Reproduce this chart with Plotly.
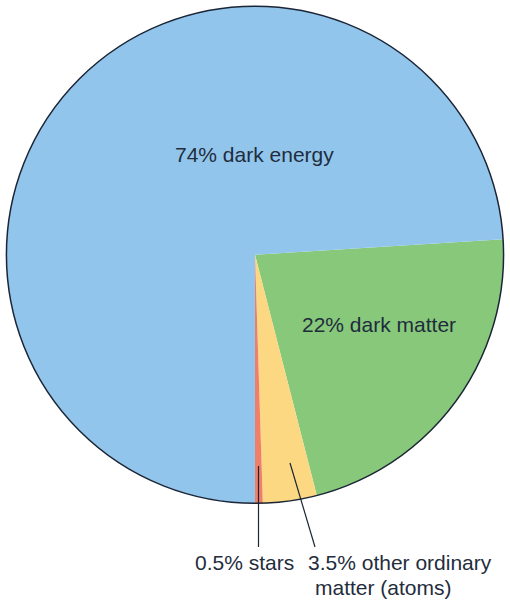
import plotly.graph_objects as go

# Data
categories = ["dark matter", "other ordinary matter (atoms)", "stars", "dark energy"]
percentages = [22, 3.5, 0.5, 74]
colors = ["#87C87A", "#FDD883", "#F07E69", "#92C5EC"]

W, H = 510, 600
FONT = "Liberation Sans, Arial, sans-serif"
TXT = "#1f2d3d"

def px(x):
    return x / W

def py(y):
    return 1 - y / H

dom_x = [px(6.5), px(503.5)]
dom_y = [py(503.5), py(6.0)]

fig = go.Figure()
fig.add_trace(go.Pie(
    labels=categories,
    values=percentages,
    sort=False,
    direction="clockwise",
    rotation=86.4,
    marker=dict(colors=colors, line=dict(width=0)),
    textinfo="none",
    hoverinfo="skip",
    domain=dict(x=dom_x, y=dom_y),
))
# outer outline
fig.add_trace(go.Pie(
    labels=["outline"],
    values=[1],
    marker=dict(colors=["rgba(0,0,0,0)"], line=dict(color="#1a2535", width=1.5)),
    textinfo="none",
    hoverinfo="skip",
    domain=dict(x=dom_x, y=dom_y),
))

annotations = [
    dict(text="74% dark energy", x=px(254), y=py(155)),
    dict(text="22% dark matter", x=px(379), y=py(324)),
    dict(text="0.5% stars", x=px(244), y=py(562)),
    dict(text="3.5% other ordinary", x=px(400), y=py(562)),
    dict(text="matter (atoms)", x=px(383), y=py(587)),
]
for a in annotations:
    a.update(xref="paper", yref="paper", showarrow=False, xanchor="center", yanchor="middle",
             font=dict(family=FONT, size=21, color=TXT))

shapes = [
    dict(type="line", xref="paper", yref="paper", x0=px(258.5), y0=py(466), x1=px(258.5), y1=py(547),
         line=dict(color="#1a2535", width=1.2)),
    dict(type="line", xref="paper", yref="paper", x0=px(290), y0=py(463), x1=px(315), y1=py(547),
         line=dict(color="#1a2535", width=1.2)),
]

fig.update_layout(
    width=W, height=H,
    margin=dict(l=0, r=0, t=0, b=0),
    paper_bgcolor="white",
    plot_bgcolor="white",
    showlegend=False,
    annotations=annotations,
    shapes=shapes,
)

fig.write_html("out.html", config={"displayModeBar": False},
               post_script="document.body.style.margin='0';document.body.style.overflow='hidden';")
